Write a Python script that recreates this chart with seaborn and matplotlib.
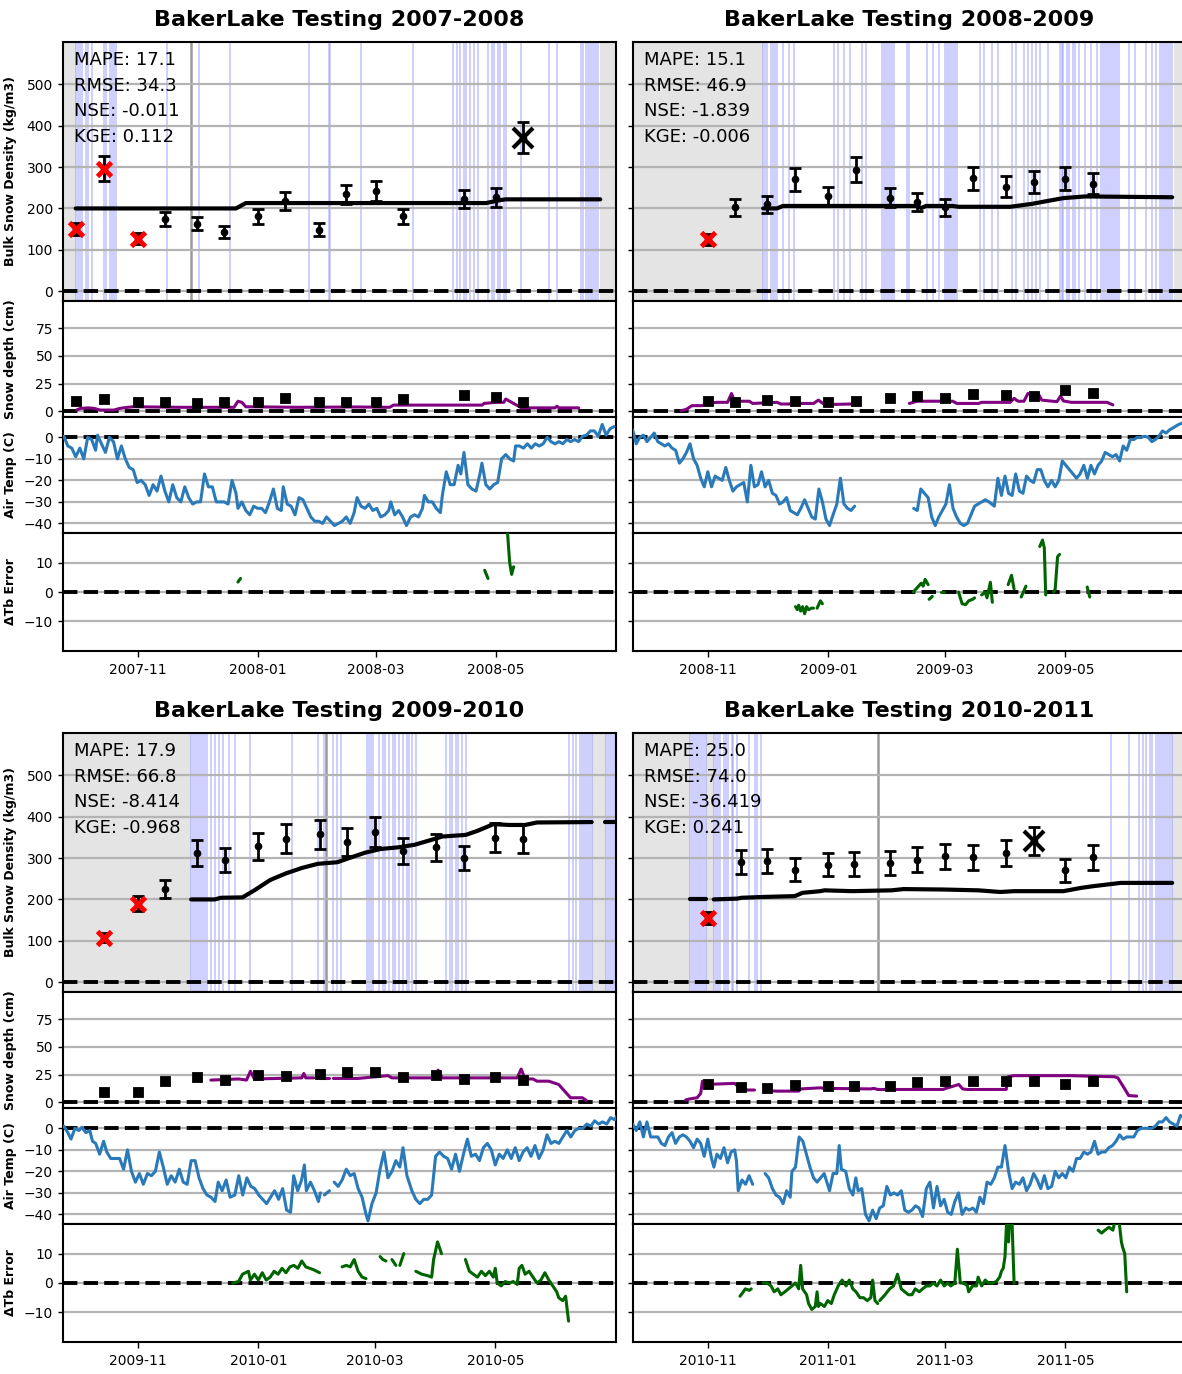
import numpy as np
import pandas as pd
import matplotlib
matplotlib.use("Agg")
import matplotlib.pyplot as plt
import matplotlib.dates as mdates
import seaborn as sns

nan = np.nan

# Day numbers below count from 24 September of the season's first year.

# ---------------------------------------------------------------- 2007-2008
obs_dates_0708 = ["2007-10-01", "2007-10-15", "2007-11-01", "2007-11-15", "2007-12-01",
                  "2007-12-15", "2008-01-01", "2008-01-15", "2008-02-01", "2008-02-15",
                  "2008-03-01", "2008-03-15", "2008-04-15", "2008-05-01", "2008-05-15"]
dens_obs_0708 = [150, 296, 127, 174, 163, 143, 181, 217, 149, 234, 242, 181, 223, 227, 371]
dens_flag_0708 = ["r", "r", "r", "k", "k", "k", "k", "k", "k", "k", "k", "k", "k", "k", "X"]
depth_obs_0708 = [9.3, 11, 8.4, 8.4, 7.8, 8.4, 8.7, 12, 8.7, 8.7, 8.7, 11.4, 15, 12.6, 8]
dens_mod_day_0708 = [6.6, 88, 93, 215, 218, 222, 225, 273]
dens_mod_0708 = [200, 200, 213, 213, 216, 220, 222, 222]
depth_mod_day_0708 = [7, 9, 13, 16, 19, 26, 29, 33, 36, 60, 87, 89, 91, 93, 120, 150, 166, 168,
                      200, 213, 214, 220, 224, 225, 228, 231, 233, 250, 251, 252, 262]
depth_mod_0708 = [1, 2.5, 3, 2.5, 1, 1, 2.5, 3.5, 4, 3.5, 3.5, 9, 8, 4, 3.5, 3.8, 3.5, 5.5,
                  5.5, 5.5, 7, 8, 8, 11, 8, 5, 3, 3, 4.5, 3, 3]
tair_day_0708 = [0.6, 2.6, 4.6, 6.6, 8.7, 10.7, 12.7, 14.7, 16.7, 17.7, 19.7, 21.7, 23.7, 25.8,
                 27.8, 29.8, 31.8, 33.8, 35.8, 37.8, 39.8, 41.9, 43.9, 45.9, 47.9, 49.9, 51.9,
                 53.9, 55.9, 57.9, 60, 62, 64, 66, 68, 70, 72, 74, 76, 78, 80, 82, 84, 86, 88,
                 89, 91, 93, 95, 97, 99, 101, 103, 105, 107, 109, 111, 112, 114, 116, 118, 120,
                 122, 124, 126, 128, 130, 132, 134, 136, 138, 140, 142, 144, 146, 148, 149.5,
                 151.5, 153.5, 155.5, 157.5, 159.5, 161.5, 163.6, 165.6, 166.6, 168.6, 170.6,
                 172.6, 174.6, 176.7, 178.7, 180.7, 182.7, 183.7, 185.7, 187.7, 189.7, 191.8,
                 192.8, 194.8, 196.8, 198.8, 200.8, 202.2, 203.8, 205.8, 207.8, 209.9, 211.9,
                 212.9, 214.9, 216.9, 218.9, 220.9, 222.9, 225, 227, 229, 230, 232, 234, 236,
                 238, 240, 242, 244, 246, 248, 250, 252, 254, 256, 258, 260, 262, 264, 266,
                 268, 270, 272, 274, 276, 278, 280]
tair_0708 = [0.5, -4, -5, -9, -5, -10, 0, -1, -6, 1, -3, -7, 0, -2,
             -10, -4, -10, -14, -15, -21, -20, -22, -27, -22, -25, -18, -25,
             -30, -22, -28, -30, -23, -28, -31, -30, -30, -17, -23, -23, -30, -30, -30, -31,
             -20, -26, -33, -30, -34, -36, -32, -33, -33, -35, -30, -24, -33, -34, -23, -31,
             -32, -36, -28, -29, -33, -37, -39, -39, -40, -37, -39, -41, -40, -39, -37, -40,
             -35, -28, -32, -33, -31, -34, -33, -37, -36, -34, -30, -36, -34, -37, -41, -37,
             -36, -37, -33, -27, -30, -30, -33, -35, -27, -16, -22, -22, -13, -17, -7, -22,
             -24, -25, -17, -12, -22, -24, -22, -21, -10, -8, -10, -11, -4, -4, -5, -3, -5,
             -3, -4, -3, 0, -2, -3, -2, -3, -1, -2, -1, -2, 0.5, 1, 3, 3, 0.5, 6, 1, 4, 5]
dtb_day_0708 = [89, 90.3, 90.5, 214.3, 216, 216.5, 225.5, 227, 228, 229]
dtb_0708 = [3.4, 4.6, nan, 7.4, 4.6, nan, 24, 10, 6, 8.6]
flag_days_0708 = [7, 8, 9, 10, 12, 13, 15, 21, 22, 24, 25, 26, 27, 53, 69, 85, 125, 135, 136,
                  151.5, 177.7, 198, 200, 202, 204, 205, 207, 209, 211, 216, 218, 219, 221,
                  222, 224, 225, 233, 247, 251, 263, 264, 266, 267, 268, 269, 270, 271, 272]
gray_days_0708 = [65]
nomodel_0708 = [(0, 6.6), (273, 282)]
metrics_0708 = ["MAPE: 17.1", "RMSE: 34.3", "NSE: -0.011", "KGE: 0.112"]

# ---------------------------------------------------------------- 2008-2009
obs_dates_0809 = ["2008-11-01", "2008-11-15", "2008-12-01", "2008-12-15", "2009-01-01",
                  "2009-01-15", "2009-02-01", "2009-02-15", "2009-03-01", "2009-03-15",
                  "2009-04-01", "2009-04-15", "2009-05-01", "2009-05-15"]
dens_obs_0809 = [125, 203, 210, 270, 230, 294, 226, 215, 203, 273, 253, 265, 272, 260]
dens_flag_0809 = ["r"] + ["k"] * 13
depth_obs_0809 = [9.3, 8.4, 10, 9.3, 8.7, 9.6, 11.7, 14, 11.7, 15.3, 14.4, 14, 19, 16.8]
dens_mod_day_0809 = [66, 73, 76, 144, 146, 148.5, 162, 165, 191, 202, 211, 218, 229, 273]
dens_mod_0809 = [200, 200, 206, 206, 201, 206, 206, 204, 204, 211, 219, 225, 229, 227]
depth_mod_day_0809 = [24.5, 27, 30, 35, 38, 42.6, 48, 50, 51.6, 59, 60.7, 73, 75, 79, 81,
                      91.5, 94, 97, 111.4, 112.5, 140, 144, 162, 164, 175, 176.6, 191, 193,
                      195, 198, 200, 205.6, 207, 214.7, 216.5, 218, 222, 224, 240, 243]
depth_mod_0809 = [0.5, 1.5, 5, 5, 7, 8, 8, 16, 9, 9, 7, 8, 6.5, 6.5, 7,
                  7, 10, 6, 6.5, nan, 7, 9, 9, 7, 7, 8, 8, 11.6,
                  9, 9, 16, 14.6, 10, 8.6, 13.7, 9.2, 8, 8, 8, 5.7]
tair_day_0809 = [0, 1.8, 3.6, 5.4, 7.2, 9.1, 10.9, 12.7, 14.5, 16.3, 18.1, 19.9, 21.7, 23.6,
                 25.4, 27.2, 29, 30.8, 32.6, 34.4, 36.2, 38, 39.9, 41.7, 43.5, 45.3, 47.1,
                 48.9, 50.7, 52.5, 54.3, 56.2, 58, 59.8, 61.6, 63.4, 65.2, 67, 68.8, 70.7,
                 72.5, 74.3, 76.1, 77.9, 79.7, 81.5, 83.3, 85.1, 87, 88.8, 90.6, 92.4, 94.2,
                 96, 97.8, 99.6, 101.4, 103.3, 105.1, 106.9, 108.7, 110.5, 112.3, 113,
                 142.2, 144, 145.8, 147.6, 149.5, 151.3, 153.1, 154.9, 156.7, 158.5, 160.3,
                 162.1, 163.9, 165.8, 167.6, 169.4, 171.2, 173, 174.8, 176.6, 178.4, 180.3,
                 183, 184.8, 186.6, 188.4, 190.2, 192, 193.8, 195.7, 197.5, 199.3, 201.1,
                 202.9, 204.7, 206.5, 208.3, 210.1, 212, 213.8, 215.6, 217.4, 219.2, 221,
                 222.8, 224.6, 226.4, 228.3, 230.1, 231.9, 233.7, 235.5, 237.3, 239.1, 240.9,
                 242.8, 244.6, 246.4, 248.2, 250, 251.8, 253.6, 255.4, 257.2, 259.1, 260.9,
                 262.7, 264.5, 266.3, 268.1, 269.9, 271.7, 273.6, 276.3, 279]
tair_0809 = [3.5, -3, 0, 1, -2, 0, 2, -2, -3, -4, -3, -5, -6, -12,
             -10, -7, -3, -10, -13, -19, -23, -16, -23, -18, -19, -20, -14,
             -20, -25, -23, -22, -21, -30, -13, -23, -22, -16, -23, -20, -26,
             -27, -31, -30, -28, -34, -35, -36, -33, -29, -33, -37, -38, -24,
             -30, -38, -41, -36, -31, -19, -31, -33, -34, -32, nan,
             -33, -34, -24, -26, -28, -37, -41, -37, -34, -31, -22,
             -33, -37, -40, -41, -40, -36, -32, -31, -30, -29, -30,
             -32, -19, -27, -18, -26, -27, -17, -25, -26, -18, -20,
             -21, -15, -15, -20, -23, -20, -23, -20, -11, -13, -15,
             -17, -19, -17, -13, -19, -13, -17, -13, -11, -7, -8,
             -9, -8, -11, -4, -6, -1, -1, 0, 0, 0.5, 0,
             -2, -1, 0.5, 3, 2, 3.5, 4.5, 6, 7]
dtb_day_0809 = [82.4, 83.3, 84, 85, 86, 87, 88, 89, 90.6, 91.5, 92, 93.3, 95, 96, 96.5,
                142, 144, 146, 147, 148, 149.5, 149.8, 150, 151.6, 152, 155.8, 157.6, 158,
                164.9, 166.7, 168.5, 170, 172, 173, 174, 176.6, 178.4, 179.3, 181, 182, 183,
                190, 191.7, 193, 194, 196.6, 199, 200, 206, 207.4, 208.3, 209, 210,
                213, 213.8, 215, 216, 217, 230, 231.3]
dtb_0809 = [-5, -6, -4.5, -6.5, -5, -7.4, -5, -6, -5.5, -5.5, nan, -5.5, -3, -4, nan,
            0, 1.5, 3, 2, 4.3, 2.5, nan, -2.5, -1.5, nan, 0, 0, nan,
            0, -4, -4.3, -3, -2.5, -2, nan, -1, 0, -2, 3.3, -3.5, nan,
            2.5, 5.7, 1, nan, -1.7, 2, nan, 15.5, 17.7, 15, -1, nan,
            0, 1, 12, 12.8, nan, 1.7, -1.7]
flag_days_0809 = [66, 67, 68, 70, 71, 72, 73, 76, 79, 81.5, 102, 104, 107, 110, 116, 118,
                  126, 127, 128, 129, 130, 131, 132, 139, 140, 149, 152, 155, 158, 159, 160,
                  161, 162, 163, 164, 176, 178, 182, 185, 192, 194, 198, 200, 202, 204, 206,
                  210, 216, 217, 218, 220, 221, 223, 224, 226, 229, 232, 235, 237, 238, 239,
                  240, 241, 242, 243, 244, 245, 246, 251, 254, 260, 263, 265, 267, 268, 269,
                  270, 271, 272, 273]
gray_days_0809 = []
nomodel_0809 = [(0, 66), (274, 282)]
metrics_0809 = ["MAPE: 15.1", "RMSE: 46.9", "NSE: -1.839", "KGE: -0.006"]

# ---------------------------------------------------------------- 2009-2010
obs_dates_0910 = ["2009-10-15", "2009-11-01", "2009-11-15", "2009-12-01", "2009-12-15",
                  "2010-01-01", "2010-01-15", "2010-02-01", "2010-02-15", "2010-03-01",
                  "2010-03-15", "2010-04-01", "2010-04-15", "2010-05-01", "2010-05-15"]
dens_obs_0910 = [108, 190, 225, 312, 295, 328, 347, 357, 339, 364, 317, 326, 300, 349, 347]
dens_flag_0910 = ["r", "r"] + ["k"] * 13
depth_obs_0910 = [9, 9, 19.5, 22.5, 20, 24.7, 23.5, 25.6, 27, 27, 23, 24.7, 21, 22.9, 20]
dens_mod_day_0910 = [65, 77, 80, 91, 97, 105, 113, 121, 129, 139, 145, 153, 161, 170, 178,
                     188, 192, 204, 210, 218, 226, 234, 240, 267.7, 268, 274.6, 279.6]
dens_mod_0910 = [200, 200, 204, 205, 222, 247, 263, 276, 286, 290, 300, 313, 322, 326, 332,
                 346, 352, 356, 366, 382, 380, 380, 386, 387, nan, 387, 387]
depth_mod_day_0910 = [75, 89, 93, 95, 97, 121, 122, 123, 127, 128.5, 130, 135, 136, 137,
                      149.5, 164.6, 166.6, 188, 190, 192, 230, 232, 234, 238, 240, 246, 251,
                      254, 257, 263, 265]
depth_mod_0910 = [20, 21, 20, 28, 21, 22, 26, 22, 22, nan, 22, 22, nan, 21.5,
                  21.5, 24, 22, 22, 29, 22, 22, 30, 21, 21, 19, 19, 16,
                  10, 4, 4, 1.5]
tair_day_0910 = [0.6, 2.6, 4.2, 6.2, 8.2, 9.7, 11.7, 13.7, 15.1, 16.7, 18.7, 20.7, 22.3, 24.3,
                 26.8, 28.8, 30.8, 32.8, 34.8, 36.8, 38.8, 40.8, 42.9, 44.9, 46.9, 48.9, 50.9,
                 52.9, 54.9, 56.9, 59, 61, 63, 65, 67, 69, 71, 73, 75, 77.1, 78.7, 80.7, 82.7,
                 84.7, 87.1, 89.1, 91.1, 93.2, 95.2, 97.2, 99.2, 101.2, 103.2, 105.2, 107.2,
                 109.3, 111.3, 113.3, 115.3, 116.9, 118.9, 120.9, 122.3, 123.3, 125.4, 127.4,
                 129.4, 130.4, 131.5, 132.4, 135, 136, 137.4, 139.4, 141.4, 143.5, 145.5,
                 147.5, 149.5, 151.5, 153.5, 154.5, 156.5, 158.6, 160.6, 162.6, 164.6, 166.6,
                 168.6, 170.6, 172.2, 174.2, 176.7, 178.7, 180.7, 182.7, 184.7, 186.7, 188.7,
                 190.7, 192.8, 194.8, 196.8, 198.8, 200.8, 202.8, 204.8, 206.8, 208.9, 210.9,
                 212.9, 214.9, 216.9, 218.9, 220.9, 222.9, 225, 227, 229, 231, 233, 235, 237,
                 239, 241, 243.1, 245.1, 247.1, 249.1, 251.1, 253.1, 255.1, 257.1, 259.2,
                 261.2, 263.2, 265.2, 267.2, 269.2, 271.2, 273.2, 275.3, 277.3, 279.3, 281]
tair_0910 = [1, -2, -5, 0, -1, 0.5, -2, -1, -6, -7, -12, -6, -11, -14,
             -14, -14, -19, -10, -20, -25, -21, -26, -21, -22, -20, -11, -18,
             -26, -22, -25, -19, -25, -26, -15, -15, -23, -28, -31, -32, -34, -25, -29, -24,
             -32, -31, -22, -31, -23, -27, -28, -31, -33, -35, -32, -29,
             -33, -28, -38, -39, -22, -29, -24, -17, -29, -25, -29,
             -34, -30, nan, -31, -29, nan, -25, -27, -24, -19, -22,
             -21, -28, -32, -40, -43, -35, -30, -19, -11, -23, -20,
             -15, -18, -9, -22, -29, -33, -35, -33, -33, -31, -13,
             -11, -13, -14, -19, -12, -20, -12, -5, -13, -12, -15,
             -9, -7, -10, -17, -12, -14, -10, -14, -9, -15, -11, -9, -13,
             -8, -14, -10, -3, -7, -6, -7, -4, -1, -4, -1,
             0, 0, 2, 1, 3.5, 2, 3, 2, 5, 4, 6.5]
dtb_day_0910 = [86, 89, 91, 94, 95, 97, 99, 101, 103, 105, 107, 109, 111, 113, 115, 117, 119,
                121, 123, 125, 127, 130, 131,
                141.4, 143.5, 145.5, 147.5, 149.5, 151.5, 153.5, 154,
                160.6, 162, 163.6, 164, 166.6, 168.6, 169, 170.6, 172.6, 173,
                178.7, 181.7, 184.7, 186.7, 187.7, 189.7, 191.7, 192,
                203.8, 205.8, 207.8, 209.9, 211.9, 213.9, 215.9, 217.9, 218.9, 219.9, 221.9,
                223.9, 226, 228, 230, 231, 232.4, 234, 236, 238, 240, 242, 244, 246, 248,
                250, 251, 253, 254.5, 256]
dtb_0910 = [0, 0.5, 3, 4, 1, 3, 1, 3.5, 1, 2, 4, 3, 5, 3.5, 5.5, 6, 5,
            7.5, 5.5, 5, 4.5, 3.5, nan,
            5.5, 6, 5.5, 8, 4, 2, 1.5, nan,
            9, 8, 7.5, nan, 8, 6, nan, 6, 10, nan,
            4, 3, 2.5, 2, 8, 14, 10, nan,
            8, 4, 3, 2, 4, 2.5, 4, 2, 5, 0, -1,
            0.5, 0, 0.5, -0.5, 5, 6, 3, 4, 2, 0, 1, 3.5, 1, -1,
            -3, -5, -6, -4.5, -13]
flag_days_0910 = [65, 66, 67, 68, 69, 70, 71, 72, 73, 75, 77, 79, 81, 84, 87, 95, 116, 129,
                  132, 137, 139, 141, 154, 155, 156, 157, 160, 162, 163, 165, 167, 168, 170,
                  172, 174, 175, 177, 179, 194, 196, 197, 199, 200, 202, 204, 256, 258, 260,
                  262, 263, 264, 265, 266, 267, 268, 275, 276, 277, 278, 279, 280]
gray_days_0910 = [133.4]
nomodel_0910 = [(0, 65), (268, 275)]
metrics_0910 = ["MAPE: 17.9", "RMSE: 66.8", "NSE: -8.414", "KGE: -0.968"]

# ---------------------------------------------------------------- 2010-2011
obs_dates_1011 = ["2010-11-01", "2010-11-18", "2010-12-01", "2010-12-15", "2011-01-01",
                  "2011-01-14", "2011-02-01", "2011-02-15", "2011-03-01", "2011-03-15",
                  "2011-04-01", "2011-04-15", "2011-05-01", "2011-05-15"]
dens_obs_1011 = [155, 290, 292, 272, 284, 286, 288, 296, 304, 302, 312, 341, 270, 302]
dens_flag_1011 = ["r", "k", "k", "k", "k", "k", "k", "k", "k", "k", "k", "X", "k", "k"]
depth_obs_1011 = [16.3, 13.3, 12.7, 15.4, 14.2, 15, 15, 18, 19.6, 19.6, 19, 19, 16.6, 19.6]
dens_mod_day_1011 = [29, 37, 37.5, 41, 53, 55, 66, 82, 86, 95, 97, 111, 131, 137, 157, 175,
                     186, 193, 218, 227, 233, 247, 273]
dens_mod_1011 = [200, 200, nan, 200, 202, 204, 206, 208, 216, 220, 222, 220, 222, 225, 224,
                 222, 218, 220, 220, 228, 232, 240, 240]
depth_mod_day_1011 = [26.8, 29, 32.6, 34.4, 35.3, 37, 40.8, 51.6, 53.4, 56, 58, 61.6, 63, 67,
                      73, 84, 85, 95, 97, 120.5, 122, 124, 157, 158.5, 165, 167, 169, 189,
                      190, 193, 222, 243.7, 245.5, 249, 251, 255]
depth_mod_1011 = [2, 3, 4, 8, 19, 17, 16.3, 17, 14, 13, 11, 11, nan, 10.5,
                  10, 10, 12, 13, 12.5, 12, 12.5, 11.5, 11.5, 12.5, 16, 12, 11.5, 11.5,
                  23, 24, 24, 23, 22, 12, 6, 5.5]
tair_day_1011 = [0, 1.8, 3.6, 5.4, 7.2, 9.1, 10.9, 12.7, 14.5, 16.3, 18.1, 19.9, 21.7, 23.6,
                 25.4, 27.2, 29, 30.8, 32.6, 34.4, 36.2, 38, 39.9, 41.1, 42.6, 44.4, 46.2,
                 48, 49.8, 51.6, 52.5, 53.4, 55.3, 57.1, 58.9, 60.7, 62, 67, 68.8, 70.7,
                 72.5, 74.3, 76.1, 77.9, 79.7, 80.6, 82.4, 84.2, 86.1, 87.9, 89.7, 91.5,
                 93.3, 95.1, 96.9, 99.6, 101.4, 103.3, 104.5, 105.6, 107.8, 109.6, 111.4,
                 112.9, 114.1, 115.9, 117.8, 119.6, 121.4, 123.2, 125, 126.8, 128.6, 130.4,
                 132.2, 134.1, 135.9, 137.7, 139.5, 141.3, 143.1, 144.9, 146.7, 148.6,
                 150.4, 152.2, 154, 155.8, 157.6, 159.4, 161.2, 163, 164.9, 166.7, 168.5,
                 170.3, 172.1, 173.9, 175.7, 177.5, 179.3, 181.2, 183, 184.8, 186.6, 188.4,
                 190.2, 192, 193.8, 195.7, 197.5, 199.3, 201.1, 202.9, 204.7, 206.5, 208.3,
                 210.1, 212, 213.8, 215.6, 217.4, 219.2, 221, 222.8, 224.6, 226.4, 228.3,
                 230.1, 231.9, 233.7, 235.5, 237.3, 239.1, 240.9, 242.8, 244.6, 246.4,
                 248.2, 250, 251.8, 253.6, 255.4, 257.2, 259.1, 260.9, 262.7, 264.5, 266.3,
                 268.1, 269.9, 271.7, 273.6, 275.4, 277.2, 280]
tair_1011 = [2, -1, 3, -4, 3, -4, -4, -4, -7, -8, -4, -2, -7, -4,
             -3, -4, -6, -9, -5, -7, -13, -5, -14, -18, -12, -14, -9,
             -16, -11, -10, -15, -29, -24, -26, -22, -26, nan, -21, -23, -28,
             -31, -32, -35, -29, -32, -20, -18, -4, -6, -12, -18, -23,
             -25, -23, -21, -29, -21, -21, -8, -19, -20, -28, -31,
             -23, -29, -28, -40, -43, -38, -42, -37, -36, -27, -31,
             -30, -31, -29, -38, -39, -38, -36, -37, -41, -28,
             -25, -37, -27, -36, -33, -39, -40, -34, -30, -40, -37,
             -38, -37, -39, -32, -35, -25, -26, -23, -18, -18, -8,
             -20, -28, -25, -26, -23, -29, -26, -21, -24, -28, -22,
             -28, -27, -20, -23, -21, -23, -18, -20, -14, -14, -11,
             -12, -11, -6, -12, -11, -11, -9, -8, -6, -3,
             -5, -4, -4, -4, -1, 0, 0, 0, 0, 1, 3,
             3, 5, 3, 2, 1, 6, 4]
dtb_day_1011 = [54.3, 56, 57, 59, 60, 61,
                66, 68, 70, 71.6, 73.4, 75, 77, 78.8, 80.6, 82.4, 84, 85, 86, 88, 89, 90.6,
                92.4, 93.3, 94, 95, 97, 98.7, 100.5, 102, 104, 106, 108, 109.6, 111.4, 113,
                115, 116.8, 118.7, 120.5, 121.4, 122.6, 124, 124.5,
                125, 127.7, 130, 132, 134, 135.9, 137.7, 139.5, 141.3, 143, 145, 146.7,
                148.6, 150.4, 152, 154, 155.8, 157.6, 159.4, 161, 163, 164.3, 165.8, 167.6,
                169.4, 170, 172, 174, 174.8, 176.6, 178.4, 180, 182, 184, 185.7, 186.6,
                187.5, 188.4, 189.3, 190.2, 191, 192, 193, 194,
                235.5, 237.3, 239, 241, 243, 244, 245.5, 247.3, 248, 249, 250]
dtb_1011 = [-4.5, -3, -2, -2.5, -2, nan,
            0, 0, -1, -3, -2, -4, -3, -2, -1, 0, -2, 6, -2, -4, -7, -9,
            -8, -3, -8, -7, -8, -6, -7, -4, -1, 1, -1, 1, -2, -3,
            -5, -5, -6, -5, 1, -6, -7, nan,
            -6, -4, -2, -1, 3, -2, -3, -4, -4, -2, -3, -2,
            -1, -1, 0, -1, 1, -1, 0, -1, 0, 11.5, 0, 0,
            -1, -3, -1, -1, 2, -1, 1, 0, 0, 0.5, 2, 4,
            5, 9, 22, 14, 26, 20, 0, nan,
            18, 17, 18, 19, 18, 21, 25, 14, 12, 10, -3]
flag_days_1011 = [29, 30, 31, 32, 33, 34, 35, 36, 37, 41, 42, 43, 44, 46, 47, 48, 50, 51,
                  53, 59, 62, 63, 65, 242, 251, 256, 258, 260, 262, 263, 265, 266, 267, 268,
                  269, 270, 271, 272, 273]
gray_days_1011 = [124]
nomodel_1011 = [(0, 29), (37, 41), (273, 282)]
metrics_1011 = ["MAPE: 25.0", "RMSE: 74.0", "NSE: -36.419", "KGE: 0.241"]

seasons = [
    (2007, obs_dates_0708, dens_obs_0708, dens_flag_0708, depth_obs_0708,
     dens_mod_day_0708, dens_mod_0708, depth_mod_day_0708, depth_mod_0708,
     tair_day_0708, tair_0708, dtb_day_0708, dtb_0708, flag_days_0708, gray_days_0708,
     nomodel_0708, metrics_0708),
    (2008, obs_dates_0809, dens_obs_0809, dens_flag_0809, depth_obs_0809,
     dens_mod_day_0809, dens_mod_0809, depth_mod_day_0809, depth_mod_0809,
     tair_day_0809, tair_0809, dtb_day_0809, dtb_0809, flag_days_0809, gray_days_0809,
     nomodel_0809, metrics_0809),
    (2009, obs_dates_0910, dens_obs_0910, dens_flag_0910, depth_obs_0910,
     dens_mod_day_0910, dens_mod_0910, depth_mod_day_0910, depth_mod_0910,
     tair_day_0910, tair_0910, dtb_day_0910, dtb_0910, flag_days_0910, gray_days_0910,
     nomodel_0910, metrics_0910),
    (2010, obs_dates_1011, dens_obs_1011, dens_flag_1011, depth_obs_1011,
     dens_mod_day_1011, dens_mod_1011, depth_mod_day_1011, depth_mod_1011,
     tair_day_1011, tair_1011, dtb_day_1011, dtb_1011, flag_days_1011, gray_days_1011,
     nomodel_1011, metrics_1011),
]

DENS_ERR_FRAC = 0.10   # relative uncertainty of density measurements

# ---------------------------------------------------------------- style
sns.set_theme(style="white")
plt.rcParams.update({
    "font.family": ["DejaVu Sans"],
    "text.color": "black",
    "axes.labelcolor": "black",
    "axes.edgecolor": "black",
    "axes.linewidth": 1.5,
    "xtick.labelsize": 10,
    "ytick.labelsize": 10,
    "xtick.color": "black",
    "ytick.color": "black",
    "xtick.bottom": True,
    "ytick.left": True,
})

W, H = 1182, 1374
fig = plt.figure(figsize=(W / 100, H / 100), dpi=100)

col_left = [62.7, 632.7]
col_width = 553.3
row_off = [0, 691]
# top / bottom edges (pixels) of the four stacked panels
panel_edges = [(41.7, 300.7), (300.7, 416.7), (416.7, 533.3), (533.3, 650.7)]


def add_px_axes(left, top, bottom):
    return fig.add_axes([left / W, 1 - bottom / H, col_width / W, (bottom - top) / H])


def draw_line(ax, dates, values, **kw):
    df = pd.DataFrame({"date": dates, "val": np.asarray(values, dtype=float)})
    df["seg"] = df["val"].isna().cumsum()
    df = df.dropna()
    sns.lineplot(data=df, x="date", y="val", units="seg", estimator=None, sort=False,
                 ax=ax, legend=False, **kw)


for i, season in enumerate(seasons):
    (y0, obs_dates, dens_obs, dens_flag, depth_obs, dm_day, dm_val, sm_day, sm_val,
     t_day, t_val, dtb_day, dtb_val, flag_days, gray_days, nomodel, metrics) = season
    r, c = divmod(i, 2)
    start = pd.Timestamp(f"{y0}-09-24")
    end = pd.Timestamp(f"{y0 + 1}-07-01")

    def to_date(days):
        return start + pd.to_timedelta(np.asarray(days, dtype=float), unit="D")

    axes = [add_px_axes(col_left[c], t + row_off[r], b + row_off[r]) for t, b in panel_edges]
    ax_d, ax_s, ax_t, ax_e = axes
    obs_dt = pd.to_datetime(obs_dates)

    # --- bulk density panel
    for a, b in nomodel:
        ax_d.axvspan(to_date([a])[0], to_date([b])[0], color="#e4e4e4", lw=0, zorder=0.1)
    for d in to_date(flag_days):
        ax_d.axvline(d, color=(0.42, 0.42, 1.0), alpha=0.32, lw=1.4, zorder=0.2)
    for d in to_date(gray_days):
        ax_d.axvline(d, color="#9a9a9a", lw=1.8, zorder=0.3)
    draw_line(ax_d, to_date(dm_day), dm_val, color="black", lw=3, zorder=3)
    dens_arr = np.asarray(dens_obs, dtype=float)
    ax_d.errorbar(obs_dt, dens_arr, yerr=DENS_ERR_FRAC * dens_arr, fmt="o", color="black",
                  ms=4.5, elinewidth=2, capsize=4, capthick=2, zorder=4)
    flags = np.asarray(dens_flag)
    ax_d.plot(obs_dt[flags == "r"], dens_arr[flags == "r"], "x", color="red", ms=10.5,
              mew=3.5, zorder=5)
    ax_d.plot(obs_dt[flags == "X"], dens_arr[flags == "X"], "x", color="black", ms=14,
              mew=3, zorder=5)
    ax_d.axhline(0, color="black", ls="--", lw=2.8, zorder=3)
    ax_d.set_ylim(-23, 603)
    ax_d.set_yticks([0, 100, 200, 300, 400, 500])
    ax_d.text(0.021, 0.965, "\n".join(metrics), transform=ax_d.transAxes, ha="left",
              va="top", fontsize=13, linespacing=1.56, color="black", zorder=6)

    # --- snow depth panel
    draw_line(ax_s, to_date(sm_day), sm_val, color="purple", lw=2.2, zorder=3)
    sns.scatterplot(x=obs_dt, y=depth_obs, marker="s", color="black", s=55,
                    edgecolor="black", ax=ax_s, zorder=4, legend=False)
    ax_s.axhline(0, color="black", ls="--", lw=2.8, zorder=2)
    ax_s.set_ylim(-5, 100)
    ax_s.set_yticks([0, 25, 50, 75])

    # --- air temperature panel
    draw_line(ax_t, to_date(t_day), t_val, color="#2a7ab9", lw=2.2, zorder=3)
    ax_t.axhline(0, color="black", ls="--", lw=2.8, zorder=2)
    ax_t.set_ylim(-44.6, 9.6)
    ax_t.set_yticks([-40, -30, -20, -10, 0])

    # --- brightness temperature error panel
    draw_line(ax_e, to_date(dtb_day), dtb_val, color="darkgreen", lw=2.2, zorder=3)
    ax_e.axhline(0, color="black", ls="--", lw=2.8, zorder=2)
    ax_e.set_ylim(-20, 20)
    ax_e.set_yticks([-10, 0, 10])

    labels = ["Bulk Snow Density (kg/m3)", "Snow depth (cm)", "Air Temp (C)", "ΔTb Error"]
    for k, ax in enumerate(axes):
        ax.set_xlim(start, end)
        ax.set_xlabel("")
        ax.set_axisbelow(True)
        ax.yaxis.grid(True, color="#b4b4b4", lw=1.6)
        ax.xaxis.grid(False)
        ax.tick_params(axis="y", length=3.5, width=1, color="black")
        if c == 0:
            ax.set_ylabel(labels[k], fontsize=9, fontweight="bold")
            ax.yaxis.set_label_coords(-0.083, 0.5)
        else:
            ax.set_ylabel("")
            ax.tick_params(axis="y", labelleft=False)
        ax.xaxis.set_major_locator(mdates.MonthLocator(bymonth=[1, 3, 5, 11]))
        ax.xaxis.set_major_formatter(mdates.DateFormatter("%Y-%m"))
        if k < 3:
            ax.tick_params(axis="x", labelbottom=False, length=0)
        else:
            ax.tick_params(axis="x", length=4, width=1, color="black", pad=5)

    fig.text((col_left[c] + col_width / 2) / W, 1 - (20 + row_off[r]) / H,
             f"BakerLake Testing {y0}-{y0 + 1}", ha="center", va="center",
             fontsize=16, fontweight="bold", color="black")

fig.savefig("out.png", dpi=100)
